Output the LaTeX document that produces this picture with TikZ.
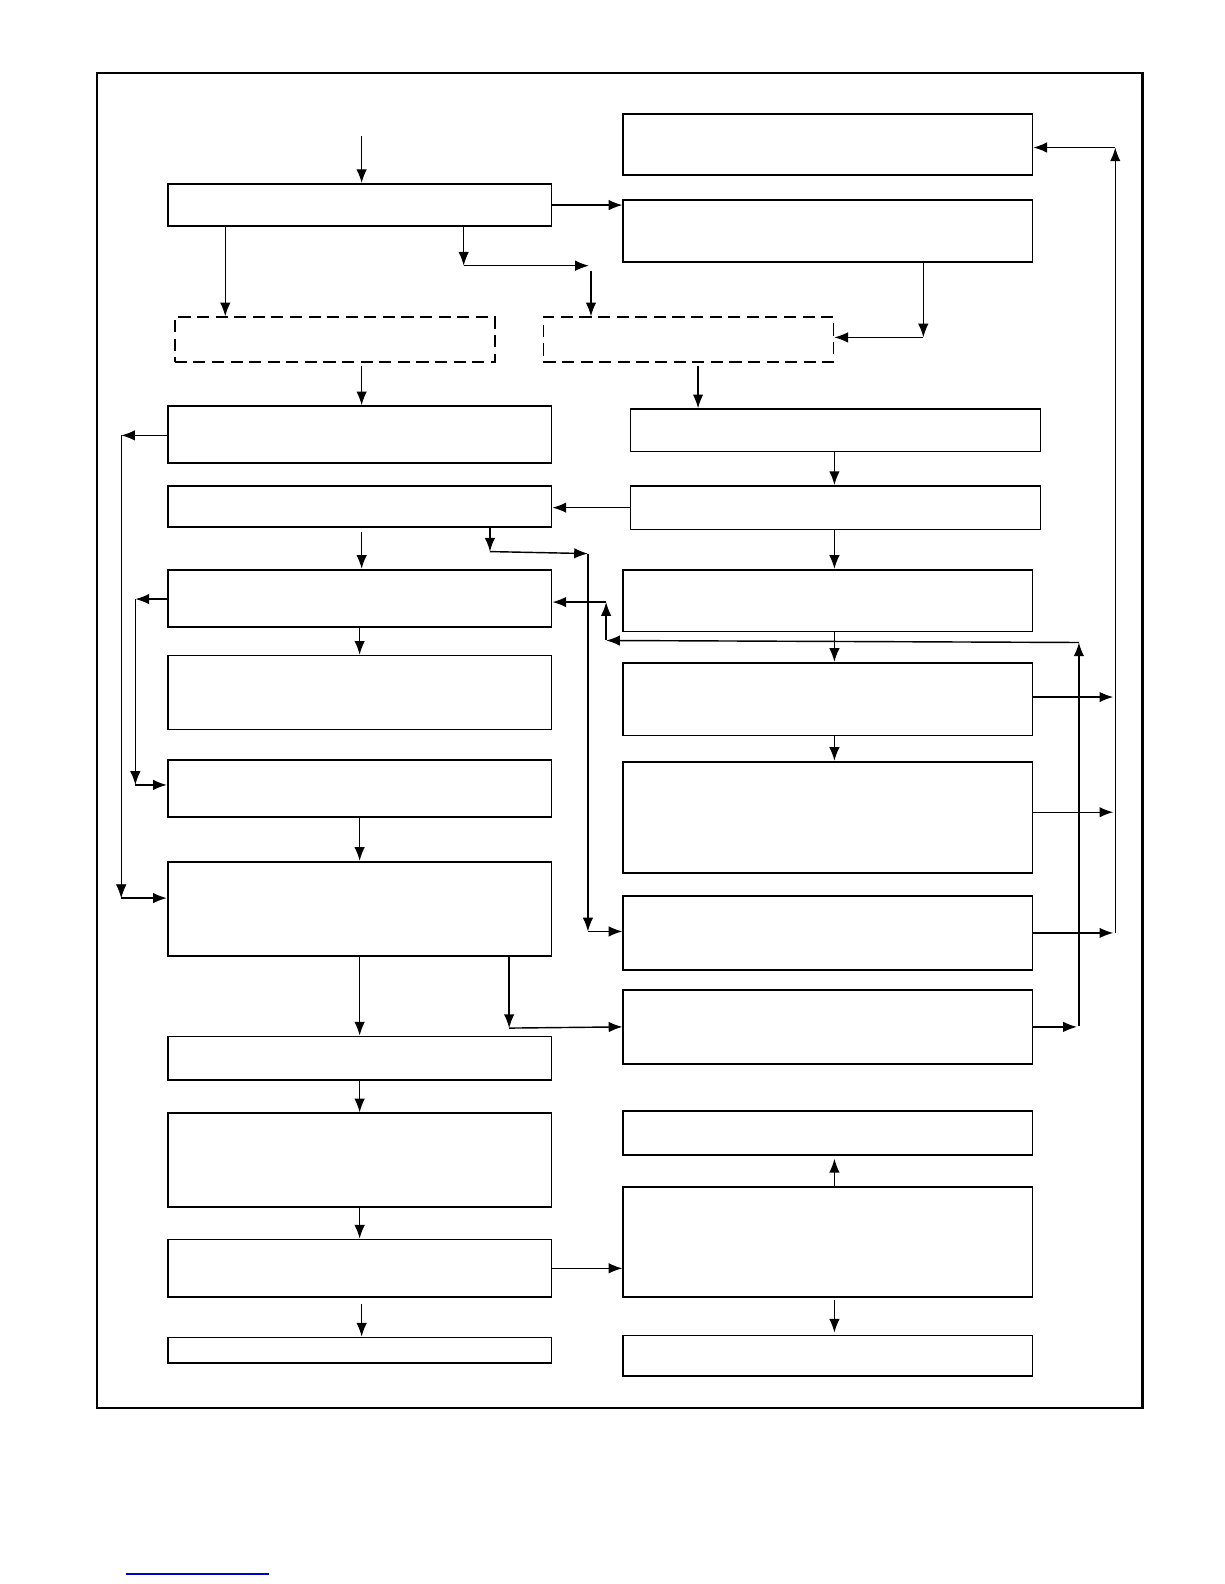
\documentclass[tikz,border=0pt]{standalone}
\usepackage{tikz}
\usetikzlibrary{arrows.meta,fit}

\tikzset{
  box/.style={draw, line width=1.2pt, inner sep=0pt},
  dashbox/.style={box, dash pattern=on 3mm off 1.6mm},
  frame/.style={draw, line width=1.5pt, inner sep=0pt},
  arr/.style={-{Latex[length=3.4mm,width=2.6mm]}, line width=1pt},
  wire/.style={line width=1pt},
}

\begin{document}
\begin{tikzpicture}[x=0.25mm, y=-0.25mm]
    \useasboundingbox (0,0) rectangle (1212,1568);
    % outer frame
    \node[frame, fit={(96,72) (1131,1394)}] (page) {};

    % left column
    \node[box, fit={(166,182) (546,224)}] (A) {};
    \node[dashbox, fit={(173,314) (490,358)}] (D1) {};
    \node[box, fit={(166,402) (546,458)}] (L1) {};
    \node[box, fit={(166,481) (546,522)}] (L2) {};
    \node[box, fit={(166,564) (546,621)}] (L3) {};
    \node[box, fit={(166,649) (546,722)}] (L4) {};
    \node[box, fit={(166,752) (546,809)}] (L5) {};
    \node[box, fit={(166,853) (546,946)}] (L6) {};
    \node[box, fit={(166,1026) (546,1069)}] (L7) {};
    \node[box, fit={(166,1102) (546,1195)}] (L8) {};
    \node[box, fit={(166,1227) (546,1284)}] (L9) {};
    \node[box, fit={(166,1324) (546,1349)}] (L10) {};

    % right column
    \node[box, fit={(617,113) (1022,173)}] (R1) {};
    \node[box, fit={(617,198) (1022,259)}] (R2) {};
    \node[dashbox, fit={(538,314) (825,358)}] (D2) {};
    \node[box, fit={(624,405) (1030,447)}] (R3) {};
    \node[box, fit={(624,481) (1030,524)}] (R4) {};
    \node[box, fit={(617,564) (1022,625)}] (R5) {};
    \node[box, fit={(617,656) (1022,728)}] (R6) {};
    \node[box, fit={(617,754) (1022,864)}] (R7) {};
    \node[box, fit={(617,887) (1022,960)}] (R8) {};
    \node[box, fit={(617,980) (1022,1053)}] (R9) {};
    \node[box, fit={(617,1100) (1022,1143)}] (R10) {};
    \node[box, fit={(617,1175) (1022,1284)}] (R11) {};
    \node[box, fit={(617,1322) (1022,1362)}] (R12) {};

    % knee points
    \coordinate (in) at (358,135);
    \coordinate (a1) at (223,0);
    \coordinate (k1) at (459,263);
    \coordinate (k2) at (583,263);
    \coordinate (k3) at (585,268);
    \coordinate (k4) at (914,334);
    \coordinate (a2) at (358,362);
    \coordinate (a3) at (691,362);
    \coordinate (k5) at (120,431);
    \coordinate (k6) at (120,889);
    \coordinate (a4) at (358,527);
    \coordinate (k7) at (485,546);
    \coordinate (k8) at (582,548);
    \coordinate (k9) at (582,922);
    \coordinate (k10) at (134,593);
    \coordinate (k11) at (134,777);
    \coordinate (rc) at (826,0);
    \coordinate (k12) at (1066,1016);
    \coordinate (k13) at (1068,636);
    \coordinate (k14) at (600,634);
    \coordinate (k15) at (600,596);
    \coordinate (k16) at (1102,0);
    \coordinate (k17) at (1104,924);
    \coordinate (k18) at (1104,146);
    \coordinate (a5) at (504,0);
    \coordinate (a6) at (358,1291);
    \coordinate (a7) at (826,1287);

    % top part
    \draw[arr] (in) -- (in |- A.north);
    \draw[arr] (a1 |- A.south) -- (a1 |- D1.north);
    \draw[arr] (k1 |- A.south) -- (k1);
    \draw[arr] (k1) -- (k2);
    \draw[arr] (k3) -- (k3 |- D2.north);
    \draw[arr] (A.east) -- (A.east -| R2.west);
    \draw[arr] (k4 |- R2.south) -- (k4);
    \draw[arr] (k4) -- (k4 -| D2.east);
    \draw[arr] (a2) -- (a2 |- L1.north);
    \draw[arr] (a3) -- (a3 |- R3.north);

    % left loops
    \draw[arr] (k5 -| L1.west) -- (k5);
    \draw[-{Latex[length=3.4mm,width=2.6mm]}, line width=0.5pt] (k5) -- (k6);
    \draw[arr] (k6) -- (k6 -| L6.west);
    \draw[arr] (k10 -| L3.west) -- (k10);
    \draw[arr] (k10) -- (k11);
    \draw[arr] (k11) -- (k11 -| L5.west);

    % middle links
    \draw[arr] (rc |- R3.south) -- (rc |- R4.north);
    \draw[arr] (R4.west) -- (R4.west -| L2.east);
    \draw[arr] (a4) -- (a4 |- L3.north);
    \draw[arr] (k7 |- L2.south) -- (k7);
    \draw[arr] (k7) -- (k8);
    \draw[arr] (k8) -- (k9);
    \draw[arr] (k9) -- (k9 -| R8.west);
    \draw[arr] (rc |- R4.south) -- (rc |- R5.north);
    \draw[arr] (L3.south) -- (L4.north);
    \draw[arr] (rc |- R5.south) -- (rc |- R6.north);
    \draw[arr] (rc |- R6.south) -- (rc |- R7.north);

    % feedback from R9
    \draw[arr] (R9.east) -- (R9.east -| k12);
    \draw[arr] (k13 |- k12) -- (k13);
    \draw[arr] (k13) -- (k14);
    \draw[arr] (k14) -- (k15);
    \draw[arr] (k15) -- (k15 -| L3.east);

    % right bus
    \draw[arr] ([yshift=0.5mm]R6.east) -- ([yshift=0.5mm]R6.east -| k16);
    \draw[arr] ([yshift=1.25mm]R7.east) -- ([yshift=1.25mm]R7.east -| k16);
    \draw[arr] (R8.east) -- (R8.east -| k16);
    \draw[arr] (k17) -- (k18);
    \draw[arr] (k18) -- (k18 -| R1.east);

    % lower part
    \draw[arr] (L5.south) -- (L6.north);
    \draw[arr] (L6.south) -- (L7.north);
    \draw[arr] (a5 |- L6.south) -- ([yshift=-0.3mm]a5 |- R9.west);
    \draw[arr] ([yshift=-0.3mm]a5 |- R9.west) -- (R9.west);
    \draw[arr] (L7.south) -- (L8.north);
    \draw[arr] (L8.south) -- (L9.north);
    \draw[arr] (L9.east) -- (L9.east -| R11.west);
    \draw[arr] (a6) -- (a6 |- L10.north);
    \draw[arr] (rc |- R11.north) -- ([yshift=-0.8mm]rc |- R10.south);
    \draw[arr] (a7) -- ([yshift=0.5mm]rc |- R12.north);

    % blue rule under the frame
    \draw[blue!75!black, line width=0.9pt] (125,1558) -- (266,1558);
\end{tikzpicture}
\end{document}
